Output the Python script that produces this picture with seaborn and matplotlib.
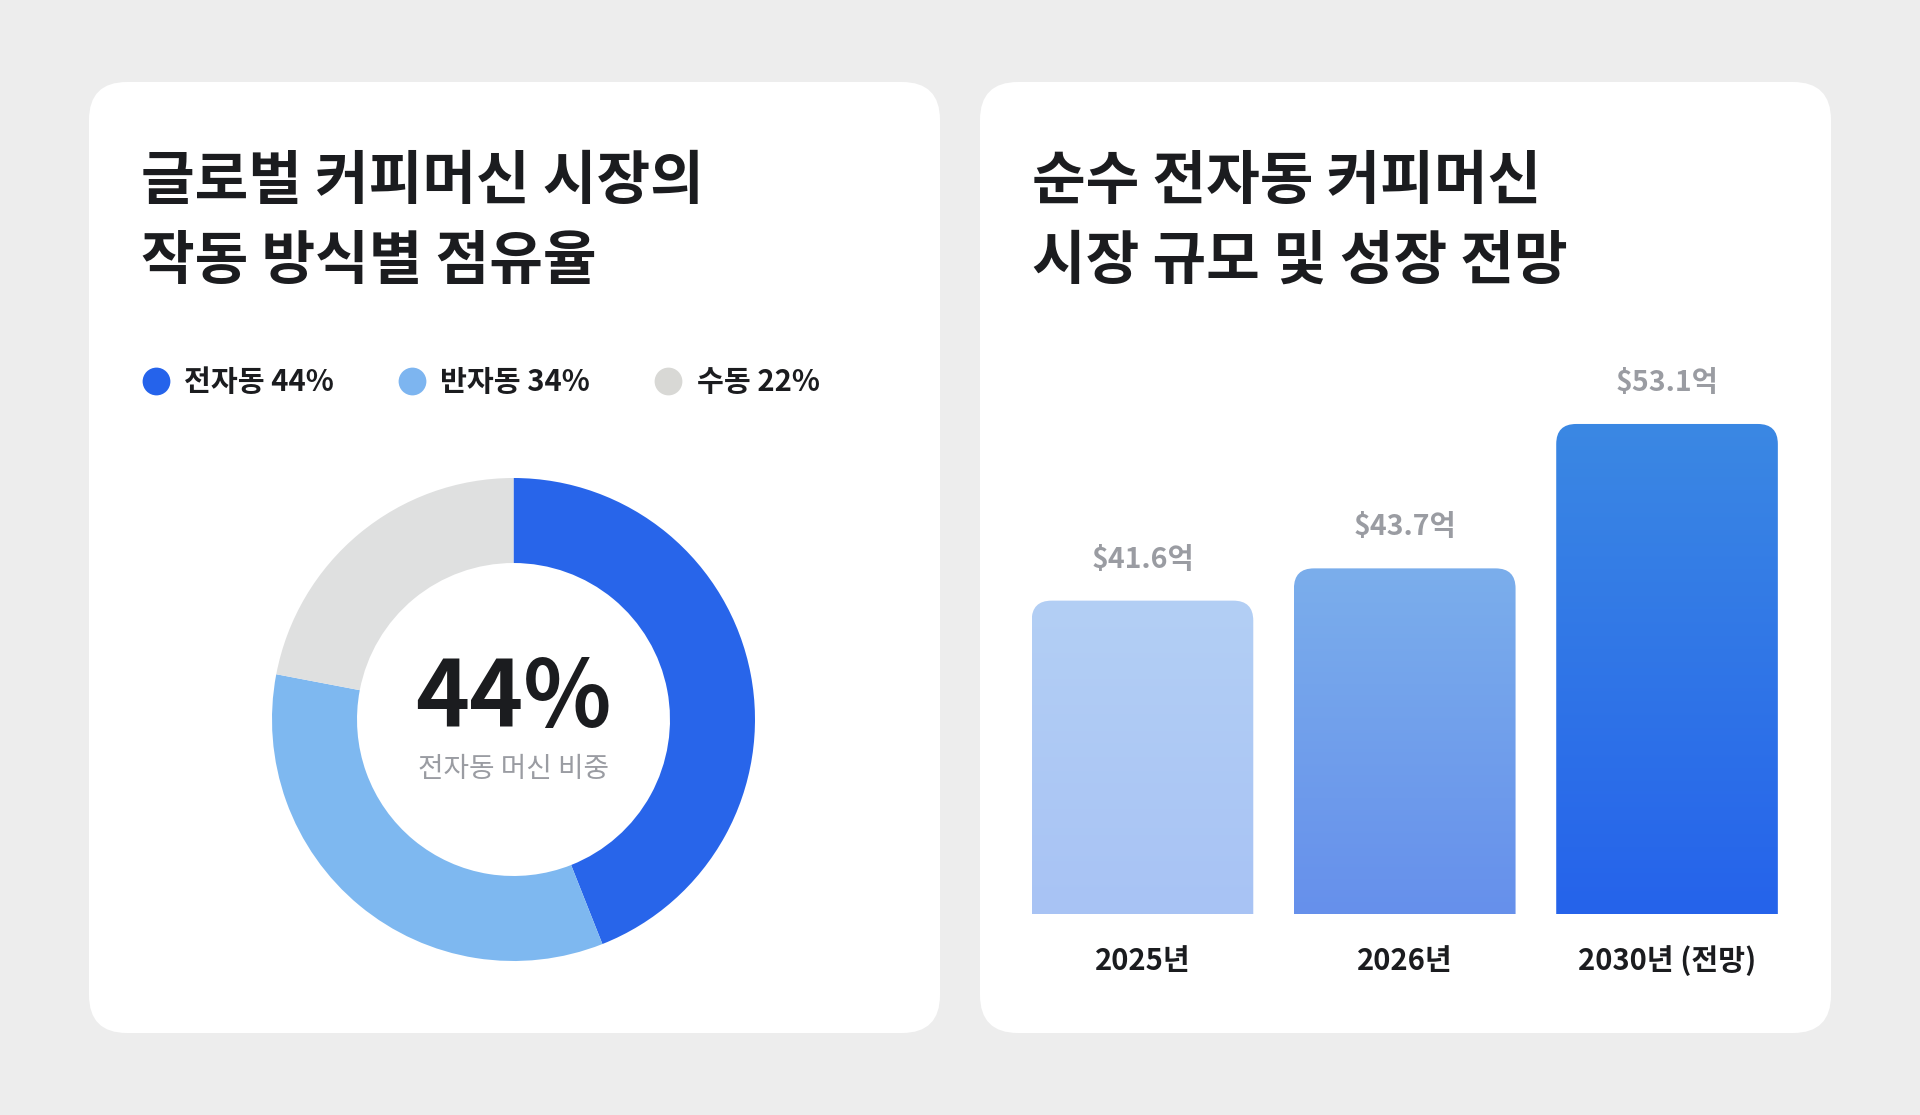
import numpy as np
import pandas as pd
import matplotlib
matplotlib.use("Agg")
import matplotlib.pyplot as plt
import seaborn as sns
from matplotlib.patches import FancyBboxPatch
from matplotlib.lines import Line2D
from matplotlib.colors import to_rgb

# --- Data ---
share_labels = ["전자동", "반자동", "수동"]
share_values = [44, 34, 22]
share_colors = ["#2865EA", "#7EB8F0", "#DFE0E0"]
legend_colors = ["#2563EB", "#7DB5F0", "#D8D8D5"]

years = ["2025년", "2026년", "2030년 (전망)"]
market_size = [41.6, 43.7, 53.1]   # 억 달러
bar_top_colors = ["#B3CFF5", "#7BAEEC", "#3B88E3"]
bar_bottom_colors = ["#A8C3F4", "#6690EB", "#2563EB"]

title_left = ["글로벌 커피머신 시장의", "작동 방식별 점유율"]
title_right = ["순수 전자동 커피머신", "시장 규모 및 성장 전망"]
center_value = "44%"
center_caption = "전자동 머신 비중"

# --- Style ---
W, H = 1920, 1115
BG = "#EDEDED"
INK = "#1B1C1F"
GREY = "#9A9CA2"

sns.set_theme(style="white")
plt.rcParams["font.family"] = ["Noto Sans CJK KR", "DejaVu Sans"]

fig = plt.figure(figsize=(W / 100, H / 100), dpi=100)
fig.patch.set_facecolor(BG)


def frac(x0, y0, x1, y1):
    # pixel box (top-left origin) -> figure fraction
    return [x0 / W, 1 - y1 / H, (x1 - x0) / W, (y1 - y0) / H]


# --- Background cards and titles ---
bg = fig.add_axes([0, 0, 1, 1])
bg.set_xlim(0, W)
bg.set_ylim(H, 0)
bg.axis("off")
for x0, x1 in [(89, 940), (980, 1831)]:
    bg.add_patch(FancyBboxPatch((x0, 82), x1 - x0, 1033 - 82,
                                boxstyle="round,pad=0,rounding_size=38",
                                fc="white", ec="none"))

for x, lines in [(141, title_left), (1032, title_right)]:
    for y, line in zip([199, 279], lines):
        bg.text(x, y, line, fontsize=42, fontweight="black", color=INK,
                ha="left", va="baseline")

# --- Legend ---
handles = [Line2D([], [], ls="none", marker="o", markersize=20,
                  markerfacecolor=c, markeredgewidth=0) for c in legend_colors]
labels = [f"{n} {v}%" for n, v in zip(share_labels, share_values)]
leg = fig.legend(handles, labels, loc="center left",
                 bbox_to_anchor=(142 / W, 1 - 382 / H), ncol=3, frameon=False,
                 prop={"size": 21, "weight": "bold"}, handlelength=0.95,
                 handletextpad=0.5, columnspacing=2.2, borderpad=0,
                 borderaxespad=0)
for t in leg.get_texts():
    t.set_color(INK)

# --- Donut ---
ax_d = fig.add_axes(frac(272, 478, 755, 961))
ax_d.pie(share_values, colors=share_colors, startangle=90, counterclock=False,
         radius=1, wedgeprops={"width": 0.352, "linewidth": 0})
ax_d.set_xlim(-1, 1)
ax_d.set_ylim(-1, 1)
ax_d.text(0, -0.031, center_value, ha="center", va="baseline", fontsize=66,
          fontweight="black", color=INK)
ax_d.text(0, -0.238, center_caption, ha="center", va="baseline", fontsize=20,
          fontweight="medium", color=GREY)

# --- Bars ---
df = pd.DataFrame({"year": years, "size": market_size})
ax_b = fig.add_axes(frac(985.1, 300, 1824.4, 914))
ax_b.set_facecolor("none")
sns.barplot(data=df, x="year", y="size", hue="year", palette=bar_bottom_colors,
            width=0.845, saturation=1, legend=False, ax=ax_b)
ax_b.set_xlim(-0.6, 2.6)
ax_b.set_ylim(21.2, 61.17)
sns.despine(ax=ax_b, left=True, bottom=True)
ax_b.set_yticks([])
ax_b.set_xlabel("")
ax_b.set_ylabel("")
ax_b.set_xticks(range(len(years)), years, fontsize=21, fontweight="bold",
                color=INK, va="center")
ax_b.tick_params(axis="x", length=0, pad=33.8)

for i, v in enumerate(market_size):
    ax_b.annotate(f"${v}억", (i, v), xytext=(0, 29.5), textcoords="offset points",
                  ha="center", va="center", fontsize=20.5, fontweight="bold",
                  color=GREY)

# gradient fill with rounded tops
o = ax_b.transData.transform((0, 0))
sx = ax_b.transData.transform((1, 0))[0] - o[0]
sy = ax_b.transData.transform((0, 1))[1] - o[1]
y_lo = ax_b.get_ylim()[0]
bars = list(ax_b.patches)
for patch, top, bot in zip(bars, bar_top_colors, bar_bottom_colors):
    x0, w, h = patch.get_x(), patch.get_width(), patch.get_height()
    clip = FancyBboxPatch((x0, y_lo - 5), w, h - y_lo + 5,
                          boxstyle=f"round,pad=0,rounding_size={20 / sx}",
                          mutation_aspect=sx / sy, fc="none", ec="none")
    ax_b.add_patch(clip)
    grad = np.linspace(to_rgb(top), to_rgb(bot), 256)[:, None, :]
    im = ax_b.imshow(grad, extent=[x0, x0 + w, y_lo, h], aspect="auto",
                     origin="upper", zorder=2)
    im.set_clip_path(clip)
    patch.set_visible(False)
ax_b.set_xlim(-0.6, 2.6)
ax_b.set_ylim(21.2, 61.17)

fig.savefig("out.png", dpi=100, facecolor=BG)
